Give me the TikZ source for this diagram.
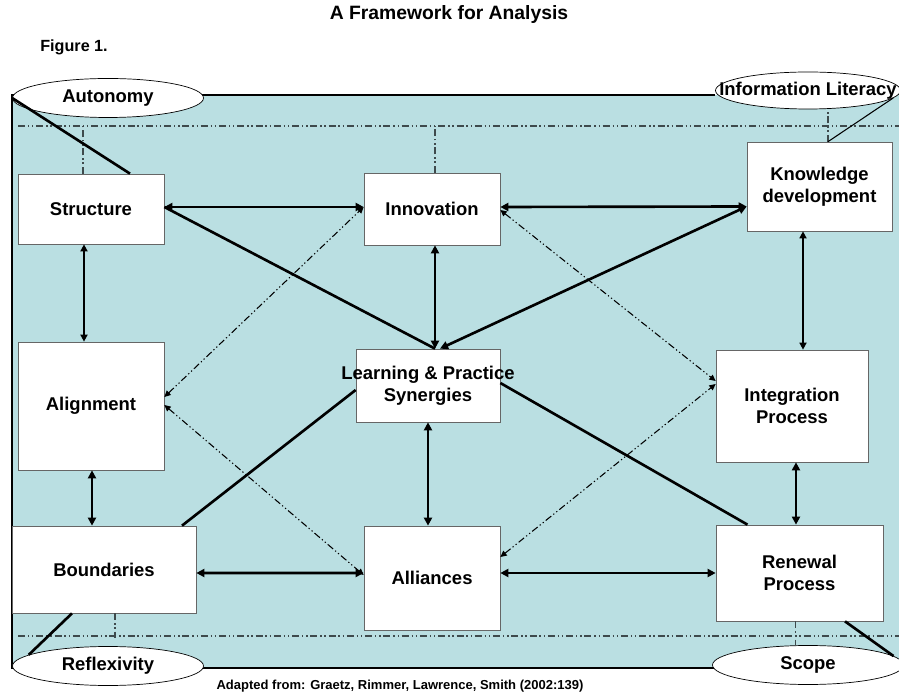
\documentclass[tikz,border=0pt]{standalone}
\usepackage{fontspec}
\setmainfont{Liberation Sans}
\usetikzlibrary{arrows.meta,shapes.geometric,calc}
\definecolor{panel}{RGB}{186,223,226}
\definecolor{guideline}{RGB}{62,74,76}
\newcommand\px{0.02cm}

\begin{document}
\begin{tikzpicture}[x=0.02cm,y=-0.02cm,
    font=\bfseries\fontsize{10.5}{12.6}\selectfont,
    box/.style 2 args={draw=black!60,fill=white,inner sep=0pt,align=center,
        minimum width=#1*\px,minimum height=#2*\px},
    oval/.style={ellipse,draw,fill=white,inner sep=0pt,
        minimum width=191*\px,minimum height=39*\px},
    bold/.style={line width=1.5pt},
    dbl/.style={bold,{Triangle[length=4.6pt,width=4.6pt]}-{Triangle[length=4.6pt,width=4.6pt]}},
    thindbl/.style={line width=0.9pt,{Triangle[length=4pt,width=4pt]}-{Triangle[length=4pt,width=4pt]}},
    dashdot/.style={line width=0.6pt,
        dash pattern=on 4pt off 1.5pt on 0.7pt off 1.5pt on 0.7pt off 1.5pt,
        {Triangle[length=3.6pt,width=3.4pt]}-{Triangle[length=3.6pt,width=3.4pt]}},
    guide/.style={guideline,line width=0.7pt,
        dash pattern=on 4pt off 1.6pt on 0.8pt off 1.6pt on 0.8pt off 1.6pt}]
\useasboundingbox (0,0) rectangle (899,695);

\node[font=\bfseries\fontsize{11}{13}\selectfont] (title) at (449,15) {A Framework for Analysis};
\node[font=\bfseries\fontsize{9.2}{11}\selectfont,anchor=west,inner sep=0pt] (fig) at (40,47) {Figure 1.};

% panel and frame
\fill[panel] (12,95) rectangle (899,668);
\draw[line width=1.7pt] (715,95) -- (12,95) -- (12,668) -- (715,668);
\draw[guide] (18,126) -- (899,126);
\draw[guide] (18,636) -- (899,636);

% the nine boxes
\node[box={146}{70}]  (struct) at (91,209)      {Structure};
\node[box={136}{72}]  (innov)  at (432,209)     {Innovation};
\node[box={145}{89}]  (know)   at (819.5,186.5) {Knowledge\\development};
\node[box={146}{128}] (align)  at (91,406)      {Alignment};
\node[box={144}{73}]  (learn)  at (428,385.5)   {\makebox[0pt]{Learning \& Practice}\\Synergies};
\node[box={152}{112}] (integ)  at (792,406)     {Integration\\Process};
\node[box={184}{87}]  (bound)  at (104,569.5)   {Boundaries};
\node[box={136}{104}] (allian) at (432,578)     {Alliances};
\node[box={167}{96}]  (renew)  at (799.5,573)   {Renewal\\Process};

% corner ovals
\node[oval] (auto)   at (108,98)    {\makebox[0pt]{Autonomy}};
\node[oval,minimum width=185*\px,minimum height=37*\px] (infolit) at (808,90.5) {\makebox[0pt]{Information Literacy}};
\node[oval] (reflex) at (108,666)   {\makebox[0pt]{Reflexivity}};
\node[oval] (scope)  at (808,665)   {\makebox[0pt]{Scope}};

% ticks down to the guide lines
\draw[guide] ($(struct.north)+(-8,0)$) -- ++(0,-48);
\draw[guide] ($(innov.north)+(3,0)$) -- ++(0,-47);
\draw[guide] ($(know.north)+(8.5,0)$) -- (infolit.south -| {$(know.north)+(8.5,0)$});
\draw[guide] ($(bound.south)+(11,0)$) -- ++(0,25);
\draw[guide] ($(renew.south)+(-4,0)$) -- ++(0,24);

% solid arrows
\draw[dbl] ($(struct.east)+(0,-2)$) -- ($(innov.west)+(0,-2)$);
\draw[dbl] ($(innov.east)+(0,-2)$) -- ($(know.west)+(0,20)$);
\draw[thindbl] ($(struct.south)+(-7,0)$) -- ($(align.north)+(-7,0)$);
\draw[dbl] ($(innov.south)+(3,0)$) -- ($(learn.north)+(7,0)$);
\draw[thindbl] ($(know.south)+(-16.5,0)$) -- ($(integ.north)+(11,0)$);
\draw[dbl] ($(align.south)+(1,0)$) -- ($(bound.north)+(-12,0)$);
\draw[dbl] (learn.south) -- ($(allian.north)+(-4,0)$);
\draw[dbl] ($(integ.south)+(4,0)$) -- ($(renew.north)+(-3.5,0)$);
\draw[dbl] ($(bound.east)+(0,3.5)$) -- ($(allian.west)+(0,-5)$);
\draw[dbl] ($(allian.east)+(0,-5)$) -- (renew.west);
\draw[dbl] ($(know.west)+(0,20)$) -- ($(learn.north)+(12,0)$);

% plain links
\draw[bold] ($(struct.east)+(0,-2)$) -- ($(learn.north)+(7,0)$);
\draw[bold] ($(learn.west)+(0,4.5)$) -- ($(bound.north)+(78,0)$);
\draw[bold] ($(learn.east)+(0,-2.5)$) -- ($(renew.north)+(-52,0)$);
\draw[bold] (auto.west) -- ($(struct.north)+(39,0)$);
\draw[bold] (reflex.172) -- ($(bound.south)+(-32,0)$);
\draw[bold] ($(renew.south)+(45.5,0)$) -- (scope.6);
\draw[line width=0.6pt] ($(know.north)+(8.5,0)$) -- (infolit.-5);

% dash-dot cross links
\draw[dashdot] ($(align.east)+(0,-9)$) -- ($(innov.west)+(0,-2)$);
\draw[dashdot] ($(align.east)+(0,-1)$) -- ($(allian.west)+(0,-3)$);
\draw[dashdot] ($(innov.east)+(0,1)$) -- ($(integ.west)+(0,-25)$);
\draw[dashdot] ($(allian.east)+(0,-21)$) -- ($(integ.west)+(0,-22)$);

\node[font=\bfseries\fontsize{7.4}{9}\selectfont] (source) at (400,686)
    {Adapted from: Graetz, Rimmer, Lawrence, Smith (2002:139)};
\end{tikzpicture}
\end{document}
